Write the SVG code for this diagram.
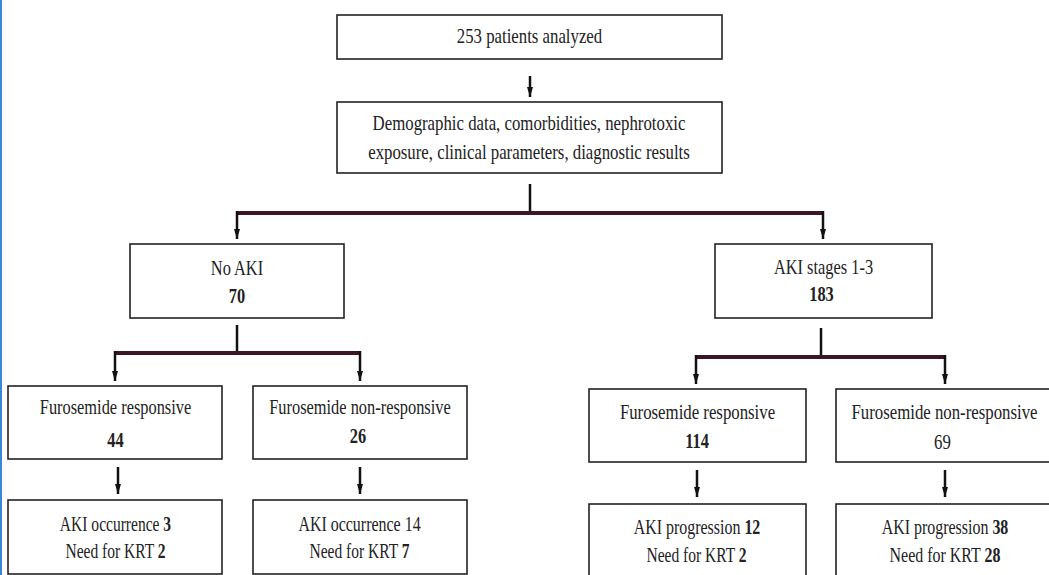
<svg xmlns="http://www.w3.org/2000/svg" width="1049" height="575" viewBox="0 0 1049 575">
<defs>
<marker id="ah" markerWidth="10" markerHeight="6" refX="10" refY="3" orient="auto" markerUnits="userSpaceOnUse" viewBox="0 0 10 6">
<path d="M0,0 L10,3 L0,6 Z" fill="#111"/>
</marker>
<style>
.box{fill:#fff;stroke:#222;stroke-width:1.6}
.t{font-family:"Liberation Serif","Times New Roman",serif;font-size:21px;fill:#222;text-anchor:middle}
.b{font-weight:bold}
.arr{stroke:#111;stroke-width:2.5;fill:none;marker-end:url(#ah)}
.bar{stroke:#3a1626;stroke-width:4;fill:none}
.stem{stroke:#111;stroke-width:2.5;fill:none}
</style>
</defs>
<rect x="0" y="0" width="1049" height="575" fill="#fff"/>
<rect x="0" y="0" width="2" height="575" fill="#3b86d6"/>

<g id="connectors">
<line class="arr" x1="530" y1="76" x2="530" y2="97"/>
<line class="stem" x1="530" y1="184" x2="530" y2="213"/>
<path class="bar" d="M237,213 H823"/>
<line class="arr" x1="237" y1="211" x2="237" y2="239"/>
<line class="arr" x1="823" y1="211" x2="823" y2="239"/>

<line class="stem" x1="237" y1="325" x2="237" y2="353"/>
<path class="bar" d="M115,353 H360"/>
<line class="arr" x1="115" y1="351" x2="115" y2="381"/>
<line class="arr" x1="360" y1="351" x2="360" y2="381"/>

<line class="stem" x1="821" y1="328" x2="821" y2="357"/>
<path class="bar" d="M696,357 H945"/>
<line class="arr" x1="696" y1="355" x2="696" y2="384"/>
<line class="arr" x1="945" y1="355" x2="945" y2="384"/>

<line class="arr" x1="118" y1="467" x2="118" y2="494"/>
<line class="arr" x1="360" y1="467" x2="360" y2="494"/>
<line class="arr" x1="697" y1="470" x2="697" y2="497"/>
<line class="arr" x1="945" y1="470" x2="945" y2="497"/>
</g>

<g id="n-patients">
<rect class="box" x="337" y="15" width="385" height="44"/>
<text class="t" transform="translate(529.5,43) scale(0.8,1)">253 patients analyzed</text>
</g>

<g id="n-data">
<rect class="box" x="337" y="102" width="385" height="71"/>
<text class="t" transform="translate(529,130) scale(0.8,1)">Demographic data, comorbidities, nephrotoxic</text>
<text class="t" transform="translate(529,159) scale(0.8,1)">exposure, clinical parameters, diagnostic results</text>
</g>

<g id="n-noaki">
<rect class="box" x="130" y="244" width="214" height="74"/>
<text class="t" transform="translate(237,275) scale(0.78,1)">No AKI</text>
<text class="t b" transform="translate(237,303) scale(0.78,1)">70</text>
</g>

<g id="n-aki">
<rect class="box" x="715" y="244" width="217" height="74"/>
<text class="t" transform="translate(823.5,274) scale(0.78,1)">AKI stages 1-3</text>
<text class="t b" transform="translate(821.5,301) scale(0.78,1)">183</text>
</g>

<g id="n-fr1">
<rect class="box" x="8" y="386" width="214" height="73"/>
<text class="t" transform="translate(115.5,414) scale(0.78,1)">Furosemide responsive</text>
<text class="t b" transform="translate(115.5,447) scale(0.78,1)">44</text>
</g>

<g id="n-fnr1">
<rect class="box" x="253" y="386" width="214" height="73"/>
<text class="t" transform="translate(360,414) scale(0.78,1)">Furosemide non-responsive</text>
<text class="t b" transform="translate(358,443) scale(0.78,1)">26</text>
</g>

<g id="n-out1">
<rect class="box" x="8" y="500" width="214" height="74"/>
<text class="t" transform="translate(115.5,531) scale(0.74,1)">AKI occurrence <tspan class="b">3</tspan></text>
<text class="t" transform="translate(115.5,558) scale(0.74,1)">Need for KRT <tspan class="b">2</tspan></text>
</g>

<g id="n-out2">
<rect class="box" x="253" y="500" width="214" height="74"/>
<text class="t" transform="translate(359.5,531) scale(0.76,1)">AKI occurrence 14</text>
<text class="t" transform="translate(359.5,558) scale(0.74,1)">Need for KRT <tspan class="b">7</tspan></text>
</g>

<g id="n-fr2">
<rect class="box" x="589" y="389" width="217" height="73"/>
<text class="t" transform="translate(697.5,419) scale(0.8,1)">Furosemide responsive</text>
<text class="t b" transform="translate(697,448) scale(0.78,1)">114</text>
</g>

<g id="n-fnr2">
<rect class="box" x="836" y="389" width="220" height="73"/>
<text class="t" transform="translate(944.5,419) scale(0.8,1)">Furosemide non-responsive</text>
<text class="t" transform="translate(942.5,449) scale(0.8,1)">69</text>
</g>

<g id="n-out3">
<rect class="box" x="589" y="504" width="217" height="80"/>
<text class="t" transform="translate(697,534) scale(0.76,1)">AKI progression <tspan class="b">12</tspan></text>
<text class="t" transform="translate(696.5,562) scale(0.74,1)">Need for KRT <tspan class="b">2</tspan></text>
</g>

<g id="n-out4">
<rect class="box" x="836" y="504" width="220" height="80"/>
<text class="t" transform="translate(945,534) scale(0.76,1)">AKI progression <tspan class="b">38</tspan></text>
<text class="t" transform="translate(945,562) scale(0.76,1)">Need for KRT <tspan class="b">28</tspan></text>
</g>
</svg>
